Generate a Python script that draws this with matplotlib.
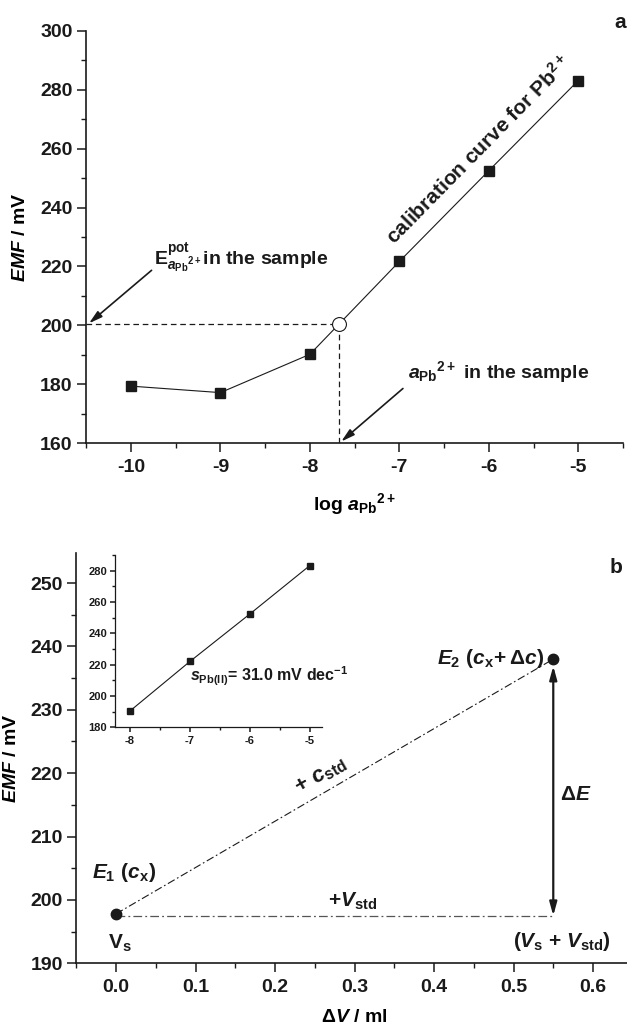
import matplotlib
matplotlib.use("Agg")
import matplotlib.pyplot as plt
from matplotlib.ticker import MultipleLocator

# ---- data ----
log_a = [-10, -9, -8, -7, -6, -5]
emf_a = [179.4, 177.2, 190.2, 221.7, 252.5, 283.1]
sample_log_a = -7.68
sample_emf = 200.5

cal_log_a = [-8, -7, -6, -5]
cal_emf = [190.4, 222.0, 252.3, 283.2]

dv = [0.0, 0.55]
emf_b = [197.8, 238.0]
emf_base = 197.5

plt.rcParams['font.family'] = ['Liberation Sans', 'DejaVu Sans']
plt.rcParams['font.weight'] = 'bold'
plt.rcParams['mathtext.fontset'] = 'custom'
plt.rcParams['mathtext.rm'] = 'Liberation Sans:bold'
plt.rcParams['mathtext.it'] = 'Liberation Sans:bold:italic'
plt.rcParams['mathtext.bf'] = 'Liberation Sans:bold'
plt.rcParams['axes.linewidth'] = 1.2
plt.rcParams['axes.unicode_minus'] = False

ink = '#1a1a1a'

fig = plt.figure(figsize=(6.27, 10.30), dpi=100)


def style_axes(ax, size, major_len=6.3, minor_len=3.3, pad_x=5, pad_y=3.5):
    for s in ('top', 'right'):
        ax.spines[s].set_visible(False)
    for s in ('left', 'bottom'):
        ax.spines[s].set_color(ink)
    ax.tick_params(which='major', direction='out', length=major_len, width=1.1,
                   colors=ink, labelsize=size)
    ax.tick_params(which='minor', direction='out', length=minor_len, width=1.0, colors=ink)
    ax.tick_params(axis='x', pad=pad_x)
    ax.tick_params(axis='y', pad=pad_y)
    for lab in ax.get_xticklabels() + ax.get_yticklabels():
        lab.set_fontweight('bold')


# ---------------- panel a ----------------
ax1 = fig.add_axes([0.1376, 0.5696, 0.856, 0.4006])
ax1.set_xlim(-10.5, -4.5)
ax1.set_ylim(160, 300)
ax1.plot(log_a, emf_a, color=ink, lw=0.8, marker='s', ms=6.5, mfc=ink, mec=ink, zorder=3)
ax1.plot([-10.5, sample_log_a], [sample_emf, sample_emf], color=ink, lw=0.9, dashes=(4.5, 3))
ax1.plot([sample_log_a, sample_log_a], [160, sample_emf], color=ink, lw=0.9, dashes=(4.5, 3))
ax1.plot([sample_log_a], [sample_emf], marker='o', ms=10, mfc='white', mec=ink, mew=0.8,
         ls='none', zorder=4)
ax1.set_xticks([-10, -9, -8, -7, -6, -5])
ax1.xaxis.set_minor_locator(MultipleLocator(0.5))
ax1.yaxis.set_major_locator(MultipleLocator(20))
ax1.yaxis.set_minor_locator(MultipleLocator(10))
style_axes(ax1, 14)
ax1.set_xlabel(r'log $a_{\mathrm{Pb}}$$^{\mathrm{2+}}$', fontsize=14, fontweight='bold')
ax1.xaxis.set_label_coords(0.5, -0.117)
ax1.set_ylabel(r'$EMF$ / mV', fontsize=14, fontweight='bold')
ax1.yaxis.set_label_coords(-0.106, 0.5)

ax1.text(-6.12, 259.5, r'calibration curve for Pb$^{\mathrm{2+}}$', rotation=45.5,
         rotation_mode='anchor', ha='center', va='center', fontsize=15,
         fontweight='bold', color=ink)
ax1.text(-9.74, 220.5, r'$\mathrm{E}^{\mathrm{pot}}_{{a_{\mathrm{Pb}}}^{\mathrm{2+}}}$in the sample',
         ha='left', va='baseline', fontsize=14, fontweight='bold', color=ink)
ax1.annotate('', xy=(-10.47, 200.7), xytext=(-9.77, 218.7),
             arrowprops=dict(arrowstyle='-|>,head_length=0.8,head_width=0.22',
                             color=ink, lw=1.2, shrinkA=0, shrinkB=0))
ax1.text(-6.90, 182.0, r'$a_{\mathrm{Pb}}$$^{\mathrm{2+}}$ in the sample',
         ha='left', va='baseline', fontsize=14, fontweight='bold', color=ink)
ax1.annotate('', xy=(-7.65, 160.6), xytext=(-6.96, 178.6),
             arrowprops=dict(arrowstyle='-|>,head_length=0.8,head_width=0.22',
                             color=ink, lw=1.2, shrinkA=0, shrinkB=0))
fig.text(0.989, 0.978, 'a', ha='center', va='center', fontsize=15, fontweight='bold', color=ink)

# ---------------- panel b ----------------
ax2 = fig.add_axes([0.1217, 0.0648, 0.8875, 0.398])
ax2.set_xlim(-0.05, 0.65)
ax2.set_ylim(190, 254.7)
ax2.plot(dv, emf_b, color=ink, lw=0.8, dashes=(7, 2.5, 1.5, 2.5))
ax2.plot(dv, [emf_base, emf_base], color='#555555', lw=0.9, dashes=(7, 2.5, 1.5, 2.5))
ax2.plot(dv, emf_b, ls='none', marker='o', ms=7.5, mfc=ink, mec=ink, zorder=4)
ax2.annotate('', xy=(dv[1], emf_b[1] - 1.1), xytext=(dv[1], emf_base),
             arrowprops=dict(arrowstyle='<|-|>,head_length=0.8,head_width=0.22',
                             color=ink, lw=1.6, shrinkA=0, shrinkB=0))
ax2.xaxis.set_major_locator(MultipleLocator(0.1))
ax2.xaxis.set_minor_locator(MultipleLocator(0.05))
ax2.yaxis.set_major_locator(MultipleLocator(10))
ax2.yaxis.set_minor_locator(MultipleLocator(5))
style_axes(ax2, 14)
ax2.set_xlabel(r'$\Delta V$ / ml', fontsize=14, fontweight='bold')
ax2.xaxis.set_label_coords(0.5, -0.112)
ax2.set_ylabel(r'$EMF$ / mV', fontsize=14, fontweight='bold')
ax2.yaxis.set_label_coords(-0.102, 0.5)

ax2.text(-0.03, 203.5, r'$E_{\mathrm{1}}\ (c_{\mathrm{x}})$', ha='left', va='baseline',
         fontsize=15, color=ink)
ax2.text(0.005, 192.3, r'$\mathrm{V}_{\mathrm{s}}$', ha='center', va='baseline',
         fontsize=15, color=ink)
ax2.text(0.538, 237.3, r'$E_{\mathrm{2}}\ (c_{\mathrm{x}}\!+\Delta c)$', ha='right',
         va='baseline', fontsize=15, color=ink)
ax2.text(0.558, 216.6, r'$\Delta E$', ha='left', va='center', fontsize=15, color=ink)
ax2.text(0.258, 219.6, r'$+\ c_{\mathrm{std}}$', rotation=30, rotation_mode='anchor',
         ha='center', va='center', fontsize=16, color=ink)
ax2.text(0.298, 199.0, r'$+V_{\mathrm{std}}$', ha='center', va='baseline', fontsize=15, color=ink)
ax2.text(0.561, 192.6, r'$(V_{\mathrm{s}}$ + $V_{\mathrm{std}})$', ha='center', va='baseline',
         fontsize=15, color=ink)
fig.text(0.982, 0.4495, 'b', ha='center', va='center', fontsize=15, fontweight='bold', color=ink)

# ---------------- inset ----------------
ax3 = fig.add_axes([0.1834, 0.2939, 0.3297, 0.1673])
ax3.plot(cal_log_a, cal_emf, color=ink, lw=0.8, marker='s', ms=3.8, mfc=ink, mec=ink)
ax3.set_xlim(-8.25, -4.8)
ax3.set_ylim(180, 290)
ax3.xaxis.set_major_locator(MultipleLocator(1))
ax3.xaxis.set_minor_locator(MultipleLocator(0.5))
ax3.yaxis.set_major_locator(MultipleLocator(20))
ax3.yaxis.set_minor_locator(MultipleLocator(10))
style_axes(ax3, 8, major_len=3.5, minor_len=2, pad_x=2.5, pad_y=2)
for s in ('left', 'bottom'):
    ax3.spines[s].set_linewidth(0.9)
ax3.text(-7.0, 209.5, r'$s_{\mathrm{Pb(II)}}$= 31.0 mV dec$^{\mathrm{-1}}$', ha='left',
         va='baseline', fontsize=11.5, fontweight='bold', color=ink)

fig.savefig('out.png', dpi=100, facecolor='white')
